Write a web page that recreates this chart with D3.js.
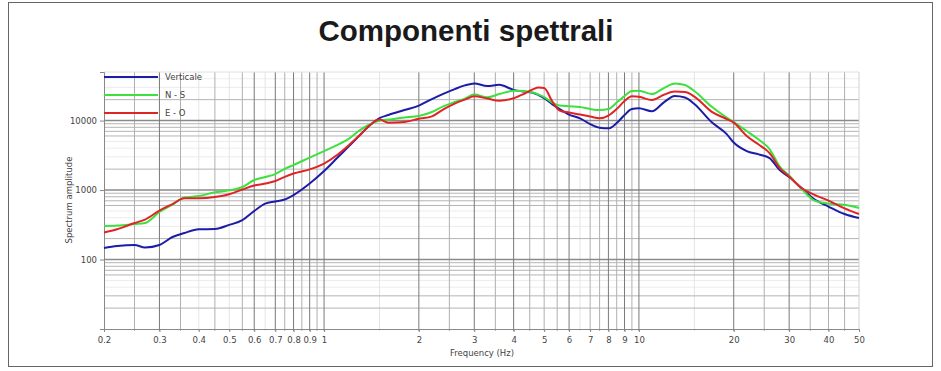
<!DOCTYPE html>
<html>
<head>
<meta charset="utf-8">
<script src="https://cdn.jsdelivr.net/npm/d3@7"></script>
<style>
html,body{margin:0;padding:0;background:#fff;}
svg{display:block;}
</style>
</head>
<body>
<svg id="chart" width="941" height="371"></svg>
<script>
// ---- data ----
const title = "Componenti spettrali";
const xTitle = "Frequency (Hz)";
const yTitle = "Spectrum amplitude";
const seriesNames = ["Verticale", "N - S", "E - O"];
const seriesColors = ["#1c1ca8", "#3ee03e", "#e02424"];

const freqs = [0.2,0.22,0.25,0.27,0.3,0.33,0.36,0.4,0.45,0.5,
  0.55,0.6,0.65,0.7,0.75,0.8,0.9,1.0,
  1.1,1.2,1.3,1.4,1.5,1.6,1.8,2.0,
  2.2,2.4,2.6,2.8,3.0,3.3,3.6,4.0,
  4.3,4.6,4.8,5.0,5.3,5.6,6.0,
  6.5,7.0,7.5,8.0,8.5,9.0,9.5,10,
  11,12,13,14,15,17,19,20,
  22,24,26,28,30,33,36,40,45,50];

const verticale = [146,156,162,149,162,211,241,272,275,315,
  368,499,639,683,730,847,1240,1877,
  2887,4297,6185,8615,10860,12000,14160,16440,
  20390,24460,28390,32100,34290,31360,32740,27650,
  26150,25200,23270,21070,17280,14640,12200,
  10760,8904,7903,7723,9204,12000,14640,14980,
  13610,18280,22510,21420,17280,9515,6393,4824,
  3640,3264,2887,1940,1538,1051,742,579,452,396];

const nordSud = [303,308,324,335,483,619,780,820,927,990,
  1105,1393,1538,1699,2018,2289,2936,3640,
  4442,5508,7300,8904,9968,10340,11050,11610,
  13260,16170,18460,20730,23820,21570,24060,26840,
  26580,25290,23660,21780,18160,16440,16060,
  15640,14640,14160,14640,18160,22510,26580,26840,
  24060,29350,34290,32430,26580,15900,11050,9515,
  7064,5329,3890,2178,1617,1017,711,637,612,551];

const estOvest = [245,272,335,376,507,629,760,760,793,870,
  1017,1161,1240,1348,1548,1727,1986,2406,
  3189,4442,6185,8615,10340,9296,9515,10610,
  11490,14640,17570,20050,22370,20730,19330,20940,
  24060,28120,29840,29350,19080,13930,13040,
  12200,11420,10760,11800,14640,19080,22370,22000,
  19720,23510,26150,25700,22140,13480,10510,9359,
  5984,4516,3406,2073,1564,1051,859,706,544,452];

const xTickValues = [0.2,0.3,0.4,0.5,0.6,0.7,0.8,0.9,1,2,3,4,5,6,7,8,9,10,20,30,40,50];
const xTickLabels = ["0.2","0.3","0.4","0.5","0.6","0.7","0.8","0.9","1","2","3","4","5","6","7","8","9","10","20","30","40","50"];
const yTickValues = [100,1000,10000];
const yTickLabels = ["100","1000","10000"];

// grid lines (frequency and amplitude positions)
const xGridStrong = [0.3,0.6,0.7,0.8,0.9,1,2,3,4,6,8,9,10,20,30];
const xGridMedium = [0.25,0.35,0.45,0.55,0.75,0.85,0.95,2.5,3.5,4.5,5,5.5,7,7.5,8.5,9.5,25,35,40,45];
const xGridLight  = [0.4,0.5,0.65,1.5,6.5,15];
const yGridStrong = [100,1000,10000];
const yGridMedium = [20,30,60,70,80,90,200,600,700,800,900,2000,6000,7000,8000,9000,20000];
const yGridLight  = [40,50,300,400,500,3000,4000,5000,30000,40000];

// ---- drawing ----
const svg = d3.select("#chart");
const W = 941, H = 371;
const plot = {left:104, right:859, top:72, bottom:329};

svg.append("rect").attr("x",0).attr("y",0).attr("width",W).attr("height",H).attr("fill","#fff");
svg.append("rect").attr("x",8.5).attr("y",2.5).attr("width",924).attr("height",364)
  .attr("fill","none").attr("stroke","#666").attr("stroke-width",1);

svg.append("text").attr("x",466).attr("y",41).attr("text-anchor","middle")
  .attr("font-family","'Liberation Sans', Arial, sans-serif").attr("font-weight","bold")
  .attr("font-size",29.5).attr("fill","#1a1a1a").text(title);

const x = d3.scaleLog().domain([0.2,50]).range([plot.left, plot.right]);
const y = d3.scaleLog().domain([10,50000]).range([plot.bottom, plot.top]);

const g = svg.append("g");

function vlines(vals, color, w) {
  g.selectAll(null).data(vals).enter().append("line")
    .attr("x1", d=>x(d)).attr("x2", d=>x(d))
    .attr("y1", plot.top).attr("y2", plot.bottom+2)
    .attr("stroke", color).attr("stroke-width", w);
}
function hlines(vals, color, w) {
  g.selectAll(null).data(vals).enter().append("line")
    .attr("x1", plot.left).attr("x2", plot.right)
    .attr("y1", d=>y(d)).attr("y2", d=>y(d))
    .attr("stroke", color).attr("stroke-width", w);
}
hlines(yGridLight, "#ececec", 1);
vlines(xGridLight, "#e4e4e4", 1);
hlines(yGridMedium, "#b4b4b4", 1);
vlines(xGridMedium, "#b0b0b0", 1);
hlines(yGridStrong, "#8a8a8a", 1.4);
vlines(xGridStrong, "#7a7a7a", 1);

// plot frame
g.append("line").attr("x1",plot.left).attr("x2",plot.right).attr("y1",plot.top).attr("y2",plot.top)
  .attr("stroke","#e0e0e0");
g.append("line").attr("x1",plot.right).attr("x2",plot.right).attr("y1",plot.top).attr("y2",plot.bottom)
  .attr("stroke","#d0d0d0");

// axes
const xAxis = d3.axisBottom(x).tickValues(xTickValues).tickFormat((d,i)=>xTickLabels[i]).tickSize(3).tickPadding(5);
const yAxis = d3.axisLeft(y).tickValues(yTickValues).tickFormat((d,i)=>yTickLabels[i]).tickSize(4).tickPadding(3);

const gx = svg.append("g").attr("transform",`translate(0,${plot.bottom})`).call(xAxis);
const gy = svg.append("g").attr("transform",`translate(${plot.left},0)`).call(yAxis);
[gx,gy].forEach(a=>{
  a.select(".domain").attr("stroke","#888");
  a.selectAll(".tick line").attr("stroke","#888");
  a.selectAll("text").attr("font-family","'DejaVu Sans', Verdana, sans-serif")
    .attr("font-size",8.5).attr("fill","#444");
});

svg.append("text").attr("x",482).attr("y",356).attr("text-anchor","middle")
  .attr("font-family","'DejaVu Sans', Verdana, sans-serif").attr("font-size",8.5).attr("fill","#444")
  .text(xTitle);
svg.append("text").attr("transform","translate(72,200) rotate(-90)").attr("text-anchor","middle")
  .attr("font-family","'DejaVu Sans', Verdana, sans-serif").attr("font-size",8.5).attr("fill","#444")
  .text(yTitle);

// series
const seriesData = [verticale, nordSud, estOvest];
const line = d3.line().x(d=>x(d[0])).y(d=>y(d[1])).curve(d3.curveMonotoneX);
seriesData.forEach((vals,i)=>{
  const pts = freqs.map((f,j)=>[f, vals[j]]);
  svg.append("path").datum(pts).attr("d",line).attr("fill","none")
    .attr("stroke",seriesColors[i]).attr("stroke-width",2).attr("stroke-linejoin","round");
});

// legend
const lg = svg.append("g");
seriesNames.forEach((name,i)=>{
  const ly = 77 + i*18;
  lg.append("line").attr("x1",104).attr("x2",158).attr("y1",ly).attr("y2",ly)
    .attr("stroke",seriesColors[i]).attr("stroke-width",2);
  lg.append("text").attr("x",165).attr("y",ly+3).attr("font-family","'DejaVu Sans', Verdana, sans-serif")
    .attr("font-size",8.5).attr("fill","#444").text(name);
});
</script>
</body>
</html>
